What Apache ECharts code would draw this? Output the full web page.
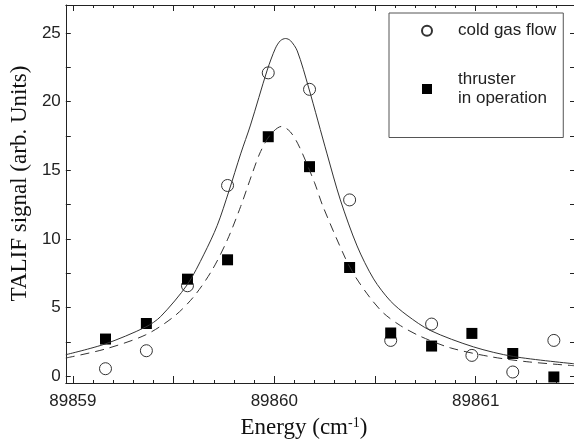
<!DOCTYPE html>
<html>
<head>
<meta charset="utf-8">
<script src="https://cdn.jsdelivr.net/npm/echarts@6/dist/echarts.min.js"></script>
<style>
  html, body { margin: 0; padding: 0; background: #fff; }
  #main { width: 574px; height: 447px; }
</style>
</head>
<body>
<div id="main"></div>
<script>
// measured points
var energy = [89859.162, 89859.365, 89859.569, 89859.768, 89859.970, 89860.175,
              89860.374, 89860.578, 89860.781, 89860.981, 89861.184, 89861.388];
var coldGas = [0.56, 1.87, 6.6, 13.9, 22.1, 20.9, 12.85, 2.62, 3.81, 1.53, 0.32, 2.62];
var thruster = [2.72, 3.85, 7.08, 8.49, 17.45, 15.27, 7.93, 3.16, 2.21, 3.13, 1.67, -0.04];

// fitted curves
var coldFitX = [89858.965, 89859.160, 89859.362, 89859.436, 89859.569, 89859.651, 89859.717,
                89859.775, 89859.833, 89859.882, 89859.965, 89860.006, 89860.031, 89860.056,
                89860.080, 89860.114, 89860.171, 89860.262, 89860.328, 89860.411, 89860.493,
                89860.576, 89860.659, 89860.774, 89860.989, 89861.187, 89861.488];
var coldFitY = [1.58, 2.36, 3.6, 4.36, 6.7, 8.9, 11.0,
                13.5, 16.2, 18.3, 22.3, 23.9, 24.45, 24.6,
                24.45, 23.7, 21.0, 16.2, 12.85, 9.5, 7.1,
                5.5, 4.45, 3.35, 2.15, 1.45, 0.92];
var thrFitX = [89858.965, 89859.160, 89859.362, 89859.502, 89859.601, 89859.692, 89859.767,
               89859.833, 89859.891, 89859.932, 89859.981, 89860.036, 89860.080, 89860.125,
               89860.200, 89860.241, 89860.353, 89860.403, 89860.477, 89860.543, 89860.626,
               89860.725, 89860.874, 89861.072, 89861.254, 89861.488];
var thrFitY = [1.34, 1.99, 3.03, 4.36, 5.82, 7.76, 9.94,
               12.37, 14.79, 16.37, 17.6, 18.2, 17.8, 16.7,
               14.1, 12.4, 8.6, 7.25, 5.7, 4.6, 3.7,
               2.92, 2.08, 1.44, 1.07, 0.78];

// axis ticks
var xLabelTicks = [89859, 89860, 89861];
var xMajorTicks = [89859, 89859.5, 89860, 89860.5, 89861];
var xMinorTicks = [89859.0, 89859.1, 89859.2, 89859.3, 89859.4, 89859.5, 89859.6, 89859.7,
                   89859.8, 89859.9, 89860.0, 89860.1, 89860.2, 89860.3, 89860.4, 89860.5,
                   89860.6, 89860.7, 89860.8, 89860.9, 89861.0, 89861.1, 89861.2, 89861.3,
                   89861.4];
var yLabelTicks = [0, 5, 10, 15, 20, 25];
var yTicks = [0, 2.5, 5, 7.5, 10, 12.5, 15, 17.5, 20, 22.5, 25];

var xMin = 89858.965, xMax = 89861.488;
var yMin = -0.48, yMax = 27.04;

function pairs(xs, ys) {
    return xs.map(function (x, i) { return [x, ys[i]]; });
}

var ink = '#222';
var sans = 'Liberation Sans, Arial, sans-serif';
var serif = 'Liberation Serif, Times New Roman, serif';

function xAx(pos, ticks, len, showLine, labels) {
    return {
        type: 'value', position: pos, min: xMin, max: xMax,
        splitLine: {show: false},
        axisLine: {show: showLine, onZero: false, lineStyle: {color: ink, width: 1}},
        axisTick: {show: true, inside: true, length: len, customValues: ticks,
                   lineStyle: {color: ink, width: 1}},
        axisLabel: labels ? {show: true, customValues: xLabelTicks, margin: 10,
                             fontSize: 17, fontFamily: sans, color: ink,
                             formatter: function (v) { return String(Math.round(v)); }}
                          : {show: false}
    };
}

var chart = echarts.init(document.getElementById('main'), null, {renderer: 'canvas'});

var xBottom = xAx('bottom', xMajorTicks, 7, true, true);
xBottom.name = '{t|Energy (cm}{s|-1}{t|)}';
xBottom.nameLocation = 'middle';
xBottom.nameGap = 33;
xBottom.nameTextStyle = {
    padding: [0, 32, 0, 0],
    rich: {
        t: {fontSize: 23, fontFamily: serif, color: '#111', lineHeight: 23},
        s: {fontSize: 14, fontFamily: serif, color: '#111', lineHeight: 14, verticalAlign: 'top'}
    }
};

var option = {
    animation: false,
    backgroundColor: '#fff',
    grid: {left: 65, right: 0, top: 5, bottom: 64},
    legend: {
        data: ['cold gas flow', 'thruster in operation'],
        orient: 'vertical',
        left: 389, top: 13,
        padding: [8, 7, 29, 32],
        itemGap: 29,
        itemWidth: 10, itemHeight: 10,
        borderColor: '#555', borderWidth: 1,
        textStyle: {fontSize: 17, fontFamily: sans, color: ink, lineHeight: 19.5,
                    padding: [0, 0, 0, 21]},
        formatter: function (name) {
            return name === 'thruster in operation' ? 'thruster\nin operation' : name;
        }
    },
    xAxis: [
        xBottom,
        xAx('bottom', xMinorTicks, 3, false, false),
        xAx('top', xMajorTicks, 6, true, false),
        xAx('top', xMinorTicks, 3, false, false)
    ],
    yAxis: [
        {
            type: 'value', position: 'left', min: yMin, max: yMax,
            splitLine: {show: false},
            axisLine: {show: true, onZero: false, lineStyle: {color: ink, width: 1}},
            axisTick: {show: true, inside: true, length: 5, customValues: yTicks,
                       lineStyle: {color: ink}},
            axisLabel: {customValues: yLabelTicks, margin: 5, fontSize: 17,
                        fontFamily: sans, color: ink},
            name: 'TALIF signal (arb. Units)',
            nameLocation: 'middle',
            nameGap: 25,
            nameTextStyle: {fontSize: 23, fontFamily: serif, color: '#111',
                            padding: [0, 0, 0, 21]}
        },
        {
            type: 'value', position: 'right', min: yMin, max: yMax,
            splitLine: {show: false},
            axisLine: {show: false},
            axisTick: {show: true, inside: true, length: 4, customValues: yTicks,
                       lineStyle: {color: ink}},
            axisLabel: {show: false}
        }
    ],
    series: [
        {
            name: 'cold gas fit', type: 'line', smooth: 0.3, showSymbol: false,
            data: pairs(coldFitX, coldFitY),
            lineStyle: {color: '#333', width: 1}
        },
        {
            name: 'thruster fit', type: 'line', smooth: 0.3, showSymbol: false,
            data: pairs(thrFitX, thrFitY),
            lineStyle: {color: '#333', width: 1, type: [9, 6]}
        },
        {
            name: 'cold gas flow', type: 'scatter', symbol: 'circle', symbolSize: 12,
            data: pairs(energy, coldGas),
            itemStyle: {color: '#fff', borderColor: '#333', borderWidth: 1, opacity: 1}
        },
        {
            name: 'thruster in operation', type: 'scatter', symbol: 'rect', symbolSize: 11,
            data: pairs(energy, thruster),
            itemStyle: {color: '#000', opacity: 1}
        }
    ]
};

chart.setOption(option);
</script>
</body>
</html>
